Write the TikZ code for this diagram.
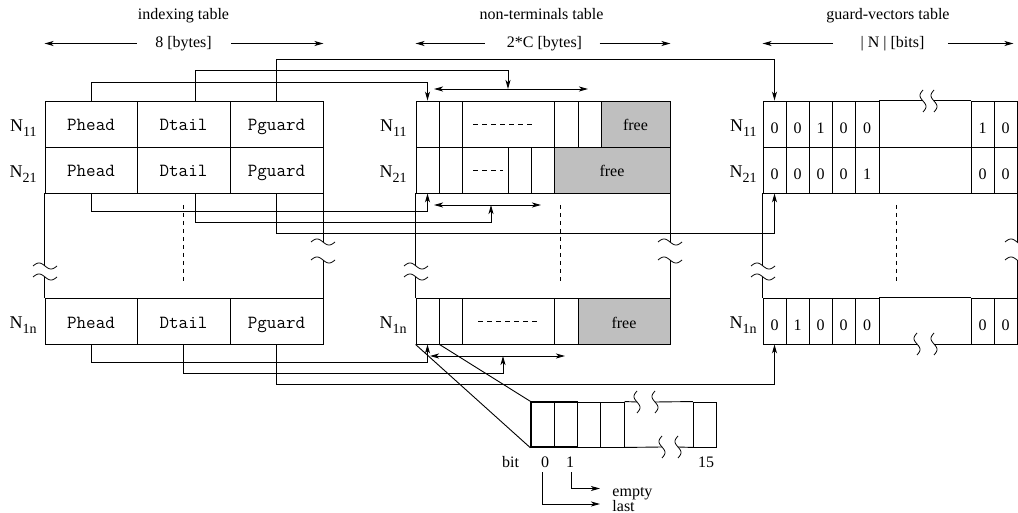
\documentclass[tikz,border=0pt]{standalone}
\usepackage{fontspec}
\setmainfont{Liberation Serif}
\usetikzlibrary{arrows.meta}
\newcommand\HSquig[2]{\draw[brk] plot[domain=-12:12,samples=31] ({#1+\x},{#2+3*sin(\x*15)});}
\newcommand\VSquig[2]{\draw[brk] plot[domain=-11:11,samples=31] ({#1+3*sin(\x*360/22)},{#2+\x});}
\begin{document}
\begin{tikzpicture}[x=1pt,y=-1pt,line width=0.9pt,
  >={Stealth[length=9pt,width=5pt,inset=2.5pt]},
  cell/.style={draw,inner sep=0pt,minimum height=46pt,text height=16pt,text depth=2pt,font=\fontsize{16}{18}\selectfont},
  ttcell/.style={cell,font=\fontsize{18.5}{20}\selectfont\ttfamily},
  freecell/.style={cell,fill=gray!50},
  bitcell/.style={cell,minimum width=23pt,text height=20pt,text depth=1pt},
  bitbox/.style={draw,inner sep=0pt,minimum width=23.3pt,minimum height=45pt},
  nlbl/.style={anchor=base east,inner sep=0pt,font=\fontsize{18}{20}\selectfont},
  txt/.style={inner sep=0pt,font=\fontsize{16}{18}\selectfont},
  brk/.style={line width=0.8pt},
  dsh/.style={dash pattern=on 4pt off 4pt},
  celldash/.style={dash pattern=on 5pt off 4pt},
]
\useasboundingbox (0,0) rectangle (1018,513);

% ---------- titles ----------
\node[txt,anchor=base] (h1) at (183.5,19.5) {indexing table};
\node[txt,anchor=base] (h2) at (541.5,19.5) {non-terminals table};
\node[txt,anchor=base] (h3) at (888,19.5) {guard-vectors table};
\node[txt] (w1) at (183.5,43.5) {8 [bytes]};
\node[txt] (w2) at (544.5,43.5) {2*C [bytes]};
\node[txt] (w3) at (892.5,43.5) {| N | [bits]};

% ---------- indexing table ----------
\foreach \r/\yy in {1/124,2/170,n/321}{
  \node[ttcell,minimum width=92pt] (i\r h) at (91,\yy) {Phead};
  \node[ttcell,minimum width=93pt] (i\r d) at (183.5,\yy) {Dtail};
  \node[ttcell,minimum width=93pt] (i\r g) at (276.5,\yy) {Pguard};
}

% ---------- non-terminals table ----------
\node[cell,minimum width=23pt] (n1a) at (427.5,124) {};
\node[cell,minimum width=23pt] (n1b) at (450.5,124) {};
\node[cell,minimum width=92pt] (n1c) at (508,124) {};
\node[cell,minimum width=24pt] (n1d) at (566,124) {};
\node[cell,minimum width=23pt] (n1e) at (589.5,124) {};
\node[freecell,minimum width=69pt] (n1f) at (635.5,124) {free};

\node[cell,minimum width=23pt] (n2a) at (427.5,170) {};
\node[cell,minimum width=23pt] (n2b) at (450.5,170) {};
\node[cell,minimum width=46pt] (n2c) at (485,170) {};
\node[cell,minimum width=23pt] (n2d) at (519.5,170) {};
\node[cell,minimum width=23pt] (n2e) at (542.5,170) {};
\node[freecell,minimum width=116pt] (n2f) at (612,170) {free};

\node[cell,minimum width=23pt] (nna) at (427.5,321) {};
\node[cell,minimum width=23pt] (nnb) at (450.5,321) {};
\node[cell,minimum width=92pt] (nnc) at (508,321) {};
\node[cell,minimum width=24pt] (nnd) at (566,321) {};
\node[freecell,minimum width=92pt] (nnf) at (624,321) {free};

\draw[celldash] (473,124) -- (533,124);
\draw[celldash] (473,170) -- (503,170);
\draw[celldash] (478,321) -- (540,321);

% ---------- guard-vectors table ----------
\node[bitcell] (g1a) at (774.5,124) {0};
\node[bitcell] (g1b) at (797.5,124) {0};
\node[bitcell] (g1c) at (820.5,124) {1};
\node[bitcell] (g1d) at (843.5,124) {0};
\node[bitcell,minimum width=24pt] (g1e) at (867,124) {0};
\node[bitcell] (g1y) at (982.5,124) {1};
\node[bitcell] (g1z) at (1005.5,124) {0};

\node[bitcell] (g2a) at (774.5,170) {0};
\node[bitcell] (g2b) at (797.5,170) {0};
\node[bitcell] (g2c) at (820.5,170) {0};
\node[bitcell] (g2d) at (843.5,170) {0};
\node[bitcell,minimum width=24pt] (g2e) at (867,170) {1};
\node[cell,minimum width=92pt] (g2m) at (925,170) {};
\node[bitcell] (g2y) at (982.5,170) {0};
\node[bitcell] (g2z) at (1005.5,170) {0};

\node[bitcell] (gna) at (774.5,321) {0};
\node[bitcell] (gnb) at (797.5,321) {1};
\node[bitcell] (gnc) at (820.5,321) {0};
\node[bitcell] (gnd) at (843.5,321) {0};
\node[bitcell,minimum width=24pt] (gne) at (867,321) {0};
\node[bitcell] (gny) at (982.5,321) {0};
\node[bitcell] (gnz) at (1005.5,321) {0};

\draw (g1e.north east) -- ++(44,0);
\draw (g1y.north west) -- ++(-37,0);
\VSquig{923}{101}
\VSquig{934}{101}
\draw (gne.north east) -- (gny.north west);
\draw (gne.south east) -- ++(38,0);
\draw (gny.south west) -- ++(-37,0);
\VSquig{917}{344}
\VSquig{934}{344}

% ---------- row labels ----------
\foreach \xx/\t in {37/i,407/n,757/g}{
  \node[nlbl] (l1\t) at (\xx,131.5) {N\raisebox{-5pt}{\fontsize{14}{14}\selectfont 11}};
  \node[nlbl] (l2\t) at (\xx,177.5) {N\raisebox{-5pt}{\fontsize{14}{14}\selectfont 21}};
  \node[nlbl] (ln\t) at (\xx,328.5) {N\raisebox{-5pt}{\fontsize{14}{14}\selectfont 1n}};
}

% ---------- broken sides ----------
\draw (i2h.south west) -- ++(0,73);  \draw (inh.north west) -- ++(0,-21);
\draw (i2g.south east) -- ++(0,49);  \draw (ing.north east) -- ++(0,-38);
\draw (n2a.south west) -- ++(0,73);  \draw (nna.north west) -- ++(0,-21);
\draw (n2f.south east) -- ++(0,49);  \draw (nnf.north east) -- ++(0,-38);
\draw (g2a.south west) -- ++(0,73);  \draw (gna.north west) -- ++(0,-21);
\draw (g2z.south east) -- ++(0,49);  \draw (gnz.north east) -- ++(0,-38);
\foreach \px in {45,416,763}{\HSquig{\px}{266}\HSquig{\px}{277}}
\foreach \px in {323,670,1017}{\HSquig{\px}{242}\HSquig{\px}{260}}

\draw[dsh] (183.5,205) -- (183.5,283);
\draw[dsh] (560,205) -- (560,283);
\draw[dsh] (896,205) -- (896,283);

% ---------- width arrows ----------
\draw[->] ([xshift=-18pt]w1.west) -- (w1.west -| i1h.west);
\draw[->] ([xshift=19pt]w1.east) -- (w1.east -| i1g.east);
\draw[->] ([xshift=-22pt]w2.west) -- (w2.west -| n1a.west);
\draw[->] ([xshift=17pt]w2.east) -- (w2.east -| n1f.east);
\draw[->] ([xshift=-27pt]w3.west) -- (w3.west -| g1a.west);
\draw[->] ([xshift=23pt]w3.east) -- ([xshift=-4pt]w3.east -| g1z.east);

% ---------- double arrows ----------
\coordinate (tdl) at (434,89);  \coordinate (tdr) at (588,89);  \coordinate (tdm) at (508,89);
\coordinate (mdl) at (434,205); \coordinate (mdr) at (541,205); \coordinate (mdm) at (491,205);
\coordinate (bdl) at (430,356); \coordinate (bdr) at (565,356); \coordinate (bdm) at (503,356);
\draw[<->] (tdl) -- (tdr);
\draw[<->] (mdl) -- (mdr);
\draw[<->] (bdl) -- (bdr);

% ---------- connectors ----------
\draw[->] (i1h.north) -- ++(0,-18) -| (n1a.north);
\draw[->] ([xshift=11.5pt]i1d.north) -- ++(0,-30) -| (tdm);
\draw[->] (i1g.north) -- ++(0,-41) -| (g1a.north);

\draw[->] (i2h.south) -- ++(0,18) -| (n2a.south);
\draw[->] ([xshift=11.5pt]i2d.south) -- ++(0,29) -| (mdm);
\draw[->] (i2g.south) -- ++(0,40) -| (g2a.south);

\draw[->] (inh.south) -- ++(0,17.5) -| (nna.south);
\draw[->] (ind.south) -- ++(0,29) -| (bdm);
\draw[->] (ing.south) -- ++(0,40) -| (gna.south);

% ---------- bit detail ----------
\node[bitbox] (b2) at (589.25,424.5) {};
\node[bitbox] (b3) at (612.55,424.5) {};
\node[bitbox] (b15) at (705.05,424.5) {};
\node[bitbox,line width=1.4pt] (b0) at (542.65,424.5) {};
\node[bitbox,line width=1.4pt] (b1) at (565.95,424.5) {};
\draw (b3.north east) -- (637,402);
\draw (655,402) -- (b15.north west);
\draw (b3.south east) -- (662,447);
\draw (678,447) -- (b15.south west);
\VSquig{637}{402}
\VSquig{655}{402}
\VSquig{662}{447}
\VSquig{678}{447}

\draw (nna.south west) -- (b0.south west);
\draw (nna.south east) -- (b0.north west);

\node[txt,anchor=base] (lbit) at (510.5,467) {bit};
\node[txt,anchor=base] (lb0) at (545,467) {0};
\node[txt,anchor=base] (lb1) at (570,467) {1};
\node[txt,anchor=base] (lb15) at (706,467) {15};
\node[txt,anchor=base west] (lempty) at (612,496) {empty};
\node[txt,anchor=base west] (llast) at (612,511.5) {last};
\coordinate (ae) at (600,488.5);
\coordinate (al) at (600,504);
\draw[->] ([xshift=1.5pt,yshift=-5pt]lb1.base) |- (ae);
\draw[->] ([xshift=-2.5pt,yshift=-5pt]lb0.base) |- (al);
\end{tikzpicture}
\end{document}
